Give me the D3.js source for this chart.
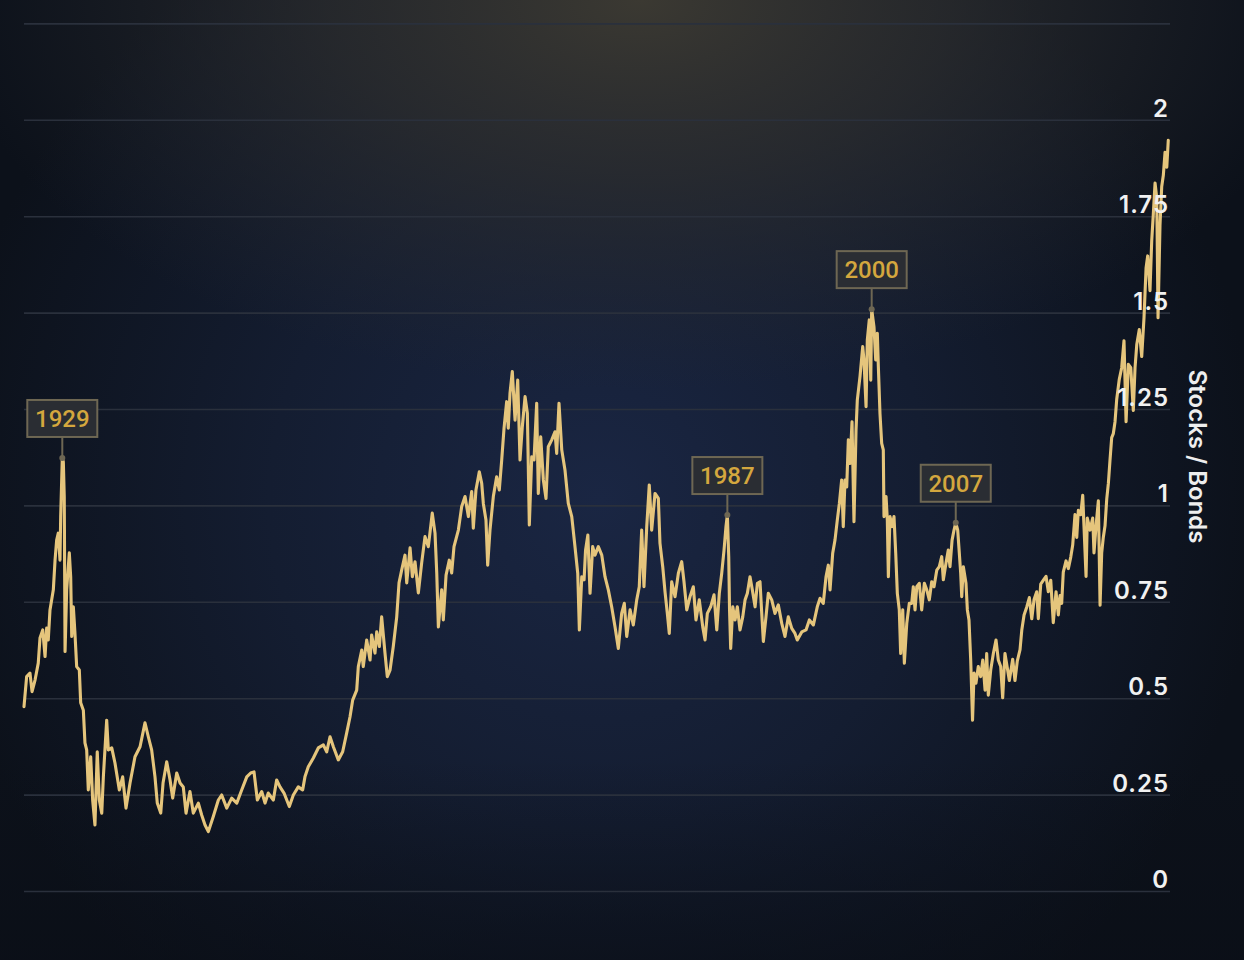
<!DOCTYPE html>
<html><head><meta charset="utf-8">
<script src="https://cdn.jsdelivr.net/npm/d3@7"></script>
<style>html,body{margin:0;padding:0;background:#0c111b;overflow:hidden}</style>
</head><body><svg id="chart" width="1244" height="960"></svg>
<script>
// Stocks / Bonds ratio
const years = [1926.40,1926.63,1926.92,1927.10,1927.36,1927.64,1927.79,1928.03,1928.23,1928.37,1928.51,1928.66,1928.95,1929.10,1929.24,1929.38,1929.53,1929.59,1929.73,1929.82,1929.90,1929.97,1930.11,1930.34,1930.46,1930.55,1930.69,1930.83,1930.98,1931.21,1931.33,1931.56,1931.70,1931.85,1931.99,1932.20,1932.37,1932.57,1932.77,1932.95,1933.16,1933.30,1933.59,1933.73,1934.03,1934.31,1934.69,1934.98,1935.27,1935.62,1936.05,1936.49,1936.92,1937.21,1937.50,1937.79,1937.99,1938.29,1938.49,1938.81,1939.10,1939.33,1939.68,1939.97,1940.25,1940.49,1940.83,1941.12,1941.56,1941.85,1942.14,1942.43,1942.86,1943.30,1943.59,1944.03,1944.46,1944.90,1945.33,1945.77,1946.11,1946.40,1946.69,1947.07,1947.36,1947.64,1948.08,1948.37,1948.66,1949.01,1949.47,1949.82,1950.25,1950.63,1950.83,1951.12,1951.56,1951.99,1952.43,1952.72,1953.01,1953.30,1953.73,1954.11,1954.46,1954.75,1954.98,1955.33,1955.47,1955.77,1955.90,1956.20,1956.49,1956.63,1956.92,1957.07,1957.30,1957.50,1957.79,1957.99,1958.23,1958.51,1958.81,1959.01,1959.24,1959.53,1959.68,1959.97,1960.17,1960.40,1960.69,1960.98,1961.27,1961.56,1961.90,1962.14,1962.29,1962.43,1962.72,1962.86,1963.10,1963.38,1963.59,1963.79,1964.17,1964.46,1964.75,1965.04,1965.33,1965.47,1965.70,1965.99,1966.20,1966.34,1966.57,1966.72,1966.92,1967.21,1967.50,1967.73,1967.94,1968.14,1968.37,1968.51,1968.66,1968.86,1969.10,1969.33,1969.53,1969.73,1969.97,1970.17,1970.34,1970.55,1970.75,1970.98,1971.12,1971.33,1971.56,1971.79,1971.99,1972.29,1972.57,1972.72,1972.92,1973.16,1973.44,1973.73,1974.03,1974.31,1974.55,1974.69,1974.90,1975.10,1975.23,1975.43,1975.62,1975.85,1976.05,1976.34,1976.64,1976.92,1977.21,1977.50,1977.79,1978.08,1978.37,1978.60,1978.81,1979.10,1979.38,1979.68,1979.90,1980.11,1980.31,1980.55,1980.77,1980.98,1981.27,1981.56,1981.70,1981.94,1982.14,1982.34,1982.51,1982.72,1983.01,1983.30,1983.59,1983.79,1984.03,1984.31,1984.60,1984.83,1985.12,1985.42,1985.62,1985.82,1986.11,1986.40,1986.64,1986.86,1987.07,1987.27,1987.44,1987.56,1987.68,1987.75,1987.85,1988.03,1988.23,1988.43,1988.66,1988.90,1989.10,1989.30,1989.53,1989.73,1989.97,1990.17,1990.40,1990.55,1990.69,1990.92,1991.12,1991.42,1991.70,1991.99,1992.29,1992.57,1992.86,1993.16,1993.44,1993.64,1994.03,1994.40,1994.69,1995.04,1995.38,1995.62,1995.90,1996.14,1996.34,1996.49,1996.72,1996.92,1997.12,1997.30,1997.50,1997.64,1997.79,1997.94,1998.08,1998.23,1998.40,1998.57,1998.75,1998.86,1999.10,1999.33,1999.44,1999.62,1999.73,1999.90,2000.03,2000.11,2000.31,2000.46,2000.60,2000.69,2000.83,2000.98,2001.12,2001.18,2001.36,2001.47,2001.56,2001.70,2001.90,2002.05,2002.20,2002.34,2002.51,2002.63,2002.81,2002.95,2003.16,2003.38,2003.59,2003.73,2003.88,2004.03,2004.25,2004.46,2004.69,2004.90,2005.12,2005.33,2005.53,2005.77,2005.99,2006.20,2006.34,2006.57,2006.77,2006.92,2007.10,2007.27,2007.42,2007.59,2007.73,2007.85,2007.94,2008.08,2008.31,2008.43,2008.57,2008.72,2008.88,2009.01,2009.18,2009.38,2009.59,2009.77,2009.97,2010.11,2010.25,2010.46,2010.69,2010.92,2011.12,2011.33,2011.50,2011.70,2012.08,2012.37,2012.57,2012.77,2013.01,2013.16,2013.36,2013.59,2013.82,2014.03,2014.23,2014.46,2014.60,2014.81,2015.04,2015.27,2015.47,2015.68,2015.90,2016.14,2016.34,2016.49,2016.63,2016.77,2017.01,2017.21,2017.42,2017.59,2017.79,2017.94,2018.08,2018.29,2018.46,2018.57,2018.75,2018.86,2019.10,2019.33,2019.44,2019.62,2019.82,2019.97,2020.11,2020.25,2020.40,2020.55,2020.69,2020.83,2020.98,2021.12,2021.27,2021.42,2021.64,2021.85,2022.05,2022.23,2022.43,2022.64,2022.86,2023.01,2023.16,2023.38,2023.59,2023.79,2023.97,2024.11,2024.31,2024.46,2024.60,2024.75,2024.90,2025.01,2025.18,2025.33,2025.47,2025.62,2025.77,2025.90];

const ratio = [0.478,0.556,0.565,0.517,0.547,0.591,0.656,0.677,0.608,0.682,0.651,0.729,0.781,0.858,0.910,0.928,0.858,0.971,1.123,1.113,1.023,0.621,0.781,0.877,0.815,0.660,0.737,0.669,0.582,0.573,0.488,0.469,0.384,0.366,0.262,0.348,0.236,0.171,0.361,0.236,0.202,0.296,0.443,0.366,0.371,0.332,0.262,0.296,0.215,0.280,0.348,0.374,0.436,0.400,0.366,0.296,0.228,0.202,0.280,0.335,0.288,0.241,0.306,0.280,0.270,0.202,0.258,0.202,0.228,0.197,0.171,0.154,0.193,0.236,0.249,0.215,0.241,0.228,0.262,0.296,0.306,0.309,0.236,0.258,0.228,0.254,0.236,0.288,0.270,0.254,0.219,0.249,0.270,0.262,0.296,0.322,0.345,0.371,0.379,0.361,0.400,0.374,0.340,0.361,0.410,0.452,0.495,0.521,0.582,0.625,0.582,0.651,0.599,0.664,0.617,0.672,0.634,0.711,0.617,0.556,0.573,0.634,0.711,0.799,0.832,0.871,0.799,0.890,0.815,0.854,0.773,0.851,0.919,0.893,0.980,0.928,0.825,0.685,0.781,0.703,0.819,0.858,0.825,0.893,0.936,0.997,1.023,0.971,1.036,0.941,1.040,1.087,1.057,1.005,0.962,0.845,0.936,1.023,1.074,1.040,1.118,1.200,1.269,1.200,1.291,1.347,1.221,1.325,1.118,1.204,1.282,1.239,0.949,1.126,1.118,1.265,1.031,1.178,1.066,1.018,1.152,1.170,1.191,1.135,1.265,1.144,1.092,1.005,0.971,0.893,0.824,0.677,0.815,0.807,0.884,0.923,0.772,0.893,0.871,0.893,0.871,0.815,0.781,0.737,0.685,0.629,0.720,0.746,0.660,0.729,0.690,0.755,0.789,0.936,0.789,0.945,1.053,0.936,1.031,1.018,0.902,0.841,0.776,0.720,0.668,0.802,0.763,0.824,0.854,0.802,0.729,0.763,0.789,0.703,0.755,0.685,0.651,0.720,0.737,0.768,0.677,0.772,0.824,0.884,0.945,0.975,0.867,0.729,0.629,0.737,0.703,0.737,0.677,0.711,0.755,0.772,0.815,0.781,0.737,0.798,0.802,0.720,0.647,0.711,0.772,0.755,0.720,0.742,0.694,0.660,0.711,0.681,0.668,0.651,0.672,0.677,0.703,0.690,0.737,0.759,0.746,0.815,0.845,0.781,0.876,0.910,0.962,1.005,1.066,0.945,1.066,1.048,1.170,1.109,1.217,0.958,1.196,1.273,1.336,1.412,1.377,1.256,1.429,1.481,1.325,1.509,1.463,1.377,1.446,1.360,1.239,1.161,1.144,0.971,1.023,0.962,0.815,0.971,0.945,0.971,0.876,0.772,0.729,0.616,0.729,0.591,0.694,0.746,0.746,0.789,0.729,0.789,0.798,0.729,0.798,0.781,0.755,0.802,0.789,0.832,0.841,0.867,0.807,0.850,0.884,0.841,0.910,0.936,0.955,0.936,0.876,0.824,0.763,0.841,0.798,0.729,0.703,0.599,0.443,0.565,0.539,0.582,0.556,0.599,0.521,0.616,0.508,0.573,0.616,0.651,0.599,0.582,0.501,0.616,0.546,0.601,0.546,0.596,0.626,0.676,0.716,0.736,0.761,0.706,0.756,0.776,0.706,0.796,0.806,0.816,0.776,0.806,0.696,0.776,0.716,0.766,0.746,0.827,0.856,0.836,0.866,0.897,0.976,0.917,0.987,0.976,1.026,0.947,0.816,0.967,0.936,0.967,0.877,0.947,1.012,0.741,0.877,0.917,0.947,1.017,1.057,1.116,1.176,1.186,1.217,1.276,1.327,1.357,1.427,1.217,1.366,1.357,1.246,1.357,1.417,1.456,1.386,1.487,1.616,1.647,1.557,1.686,1.756,1.836,1.796,1.487,1.726,1.827,1.856,1.916,1.877,1.947];

const yTicks = [0, 0.25, 0.5, 0.75, 1, 1.25, 1.5, 1.75, 2, 2.25];
const yTickLabels = ["0", "0.25", "0.5", "0.75", "1", "1.25", "1.5", "1.75", "2", ""];
const axisTitle = "Stocks / Bonds";

const annotationLabels = ["1929", "1987", "2000", "2007"];
const annotationYears = [1929.73, 1987.56, 2000.11, 2007.42];

// ---------- layout ----------
const W = 1244, H = 960;
const plot = {left: 24, right: 1170, top: 23.4, bottom: 891};

const svg = d3.select("#chart");
const defs = svg.append("defs");

const blue = defs.append("radialGradient").attr("id", "blueGlow")
  .attr("gradientUnits", "userSpaceOnUse").attr("cx", 600).attr("cy", 500).attr("r", 660);
blue.append("stop").attr("offset", 0).attr("stop-color", "#1a2643");
blue.append("stop").attr("offset", 0.5).attr("stop-color", "#141d31");
blue.append("stop").attr("offset", 1).attr("stop-color", "#0c111a");

const warm = defs.append("radialGradient").attr("id", "warmGlow")
  .attr("gradientUnits", "userSpaceOnUse").attr("cx", 640).attr("cy", 0).attr("r", 600)
  .attr("gradientTransform", "translate(640,0) scale(1.15,0.65) translate(-640,0)");
warm.append("stop").attr("offset", 0).attr("stop-color", "#3b3932").attr("stop-opacity", 1);
warm.append("stop").attr("offset", 0.45).attr("stop-color", "#2d2e2f").attr("stop-opacity", 0.75);
warm.append("stop").attr("offset", 1).attr("stop-color", "#262930").attr("stop-opacity", 0);

const bottomShade = defs.append("linearGradient").attr("id", "bottomShade")
  .attr("x1", 0).attr("y1", 0).attr("x2", 0).attr("y2", 1);
bottomShade.append("stop").attr("offset", 0).attr("stop-color", "#0a0e16").attr("stop-opacity", 0);
bottomShade.append("stop").attr("offset", 1).attr("stop-color", "#0a0e16").attr("stop-opacity", 0.6);

svg.append("rect").attr("width", W).attr("height", H).attr("fill", "url(#blueGlow)");
svg.append("rect").attr("width", W).attr("height", H).attr("fill", "url(#warmGlow)");
svg.append("rect").attr("y", 760).attr("width", W).attr("height", 200).attr("fill", "url(#bottomShade)");

// ---------- scales ----------
const x = d3.scaleLinear().domain([1926.4, 2026.05]).range([plot.left, plot.right]);
const y = d3.scaleLinear().domain([0, 2.25]).range([plot.bottom, plot.top]);

const data = years.map((yr, i) => ({year: yr, value: ratio[i]})).filter(d => d.value != null);

// ---------- grid (under the line) ----------
const gridW = plot.right - plot.left;
svg.append("g")
  .attr("transform", `translate(${plot.left},0)`)
  .call(d3.axisRight(y).tickValues(yTicks).tickSize(gridW).tickFormat(""))
  .call(g => g.select(".domain").remove())
  .call(g => g.selectAll(".tick line").attr("stroke", "#2a303c").attr("stroke-width", 1.6));

// ---------- line ----------
const line = d3.line().x(d => x(d.year)).y(d => y(d.value));
svg.append("path").datum(data)
  .attr("d", line)
  .attr("fill", "none")
  .attr("stroke", "#e5c57c")
  .attr("stroke-width", 3.1)
  .attr("stroke-linejoin", "round")
  .attr("stroke-linecap", "round");

// ---------- tick labels (above the line) ----------
const labelG = svg.append("g")
  .attr("transform", `translate(${plot.right - 1},0)`)
  .call(d3.axisLeft(y).tickValues(yTicks).tickSize(0).tickPadding(0)
        .tickFormat((d, i) => yTickLabels[i]));
labelG.select(".domain").remove();
labelG.selectAll(".tick text")
  .attr("x", 0)
  .attr("dy", null)
  .attr("y", -3.5)
  .attr("text-anchor", "end")
  .attr("fill", "#f1f1f1")
  .style("font-family", "Inter, 'Open Sans', sans-serif")
  .style("font-weight", 600)
  .style("font-size", "24px")
  .style("letter-spacing", "1px");

// axis title
svg.append("text")
  .attr("transform", `translate(1189,${(y(1) + y(0.75)) / 2 - 97}) rotate(90)`)
  .attr("text-anchor", "middle")
  .attr("fill", "#eeeeee")
  .style("font-family", "Inter, 'Open Sans', sans-serif")
  .style("font-weight", 600)
  .style("font-size", "24px")
  .text(axisTitle);

// ---------- annotations ----------
const annG = svg.append("g");
annotationLabels.forEach((lab, i) => {
  const yr = annotationYears[i];
  const win = data.filter(d => Math.abs(d.year - yr) < 0.4);
  const peak = d3.greatest(win, d => d.value);
  const px = x(peak.year), py = y(peak.value);
  const bw = 70, bh = 37, gap = 21;
  annG.append("line")
    .attr("x1", px).attr("x2", px)
    .attr("y1", py - gap).attr("y2", py)
    .attr("stroke", "#6e6753").attr("stroke-width", 2);
  annG.append("circle").attr("cx", px).attr("cy", py).attr("r", 3)
    .attr("fill", "#6e6753");
  annG.append("rect")
    .attr("x", px - bw / 2).attr("y", py - gap - bh)
    .attr("width", bw).attr("height", bh)
    .attr("fill", "#2a2d33").attr("stroke", "#6e6753").attr("stroke-width", 2);
  annG.append("text")
    .attr("x", px).attr("y", py - gap - bh / 2)
    .attr("dy", "0.36em")
    .attr("text-anchor", "middle")
    .attr("fill", "#d4a73e")
    .style("font-family", "Roboto, sans-serif")
    .style("font-weight", 500)
    .style("font-size", "24px")
    .text(lab);
});
</script></body></html>
